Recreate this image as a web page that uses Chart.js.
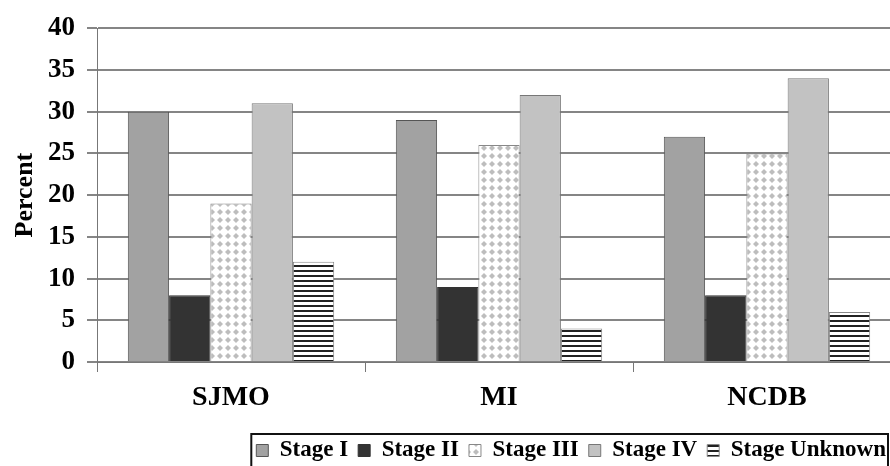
<!DOCTYPE html>
<html>
<head>
    <meta charset="UTF-8">
    <title>Stage distribution</title>
    <script src="https://cdn.jsdelivr.net/npm/chart.js"></script>
    <style>
        html, body { margin: 0; padding: 0; background: #fff; overflow: hidden; }
        #wrap { width: 902px; height: 466px; }
    </style>
</head>
<body>
    <div id="wrap"><canvas id="stageChart"></canvas></div>

    <script>
        var categories = ['SJMO', 'MI', 'NCDB'];
        var stageI = [30, 29, 27];
        var stageII = [8, 9, 8];
        var stageIII = [19, 26, 25];
        var stageIV = [31, 32, 34];
        var stageUnknown = [12, 4, 6];
        var yTicks = [0, 5, 10, 15, 20, 25, 30, 35, 40];

        var serif = '"Liberation Serif", "Times New Roman", serif';

        function diamondPattern() {
            var c = document.createElement('canvas');
            c.width = 8; c.height = 8;
            var g = c.getContext('2d');
            g.fillStyle = '#fff';
            g.fillRect(0, 0, 8, 8);
            g.fillStyle = '#bdbdbd';
            g.beginPath();
            g.moveTo(4, 1); g.lineTo(7, 4); g.lineTo(4, 7); g.lineTo(1, 4);
            g.closePath(); g.fill();
            return g.createPattern(c, 'repeat');
        }

        function stripePattern() {
            var c = document.createElement('canvas');
            c.width = 5; c.height = 5;
            var g = c.getContext('2d');
            g.fillStyle = '#fff';
            g.fillRect(0, 0, 5, 5);
            g.fillStyle = '#222';
            g.fillRect(0, 0, 5, 2);
            return g.createPattern(c, 'repeat');
        }

        // move the legend so it ends near the right edge of the visible area, then box it
        var legendBox = {
            id: 'legendBox',
            afterLayout: function(chart) {
                chart.legend.right = 896;
                chart.legend.top += 6;
            },
            afterDraw: function(chart) {
                var boxes = chart.legend.legendHitBoxes;
                if (!boxes || !boxes.length) return;
                var left = boxes[0].left - 5;
                var ctx = chart.ctx;
                ctx.save();
                ctx.strokeStyle = '#111';
                ctx.lineWidth = 2;
                ctx.strokeRect(left, 434, 888 - left, 34);
                ctx.restore();
            }
        };

        var ctx = document.getElementById('stageChart').getContext('2d');
        var stageChart = new Chart(ctx, {
            type: 'bar',
            data: {
                labels: categories,
                datasets: [
                    { label: 'Stage I', data: stageI, backgroundColor: '#a2a2a2', borderColor: '#555', borderWidth: 1 },
                    { label: 'Stage II', data: stageII, backgroundColor: '#333333', borderColor: '#333', borderWidth: 1 },
                    { label: 'Stage III', data: stageIII, backgroundColor: diamondPattern(), borderColor: '#888', borderWidth: 1 },
                    { label: 'Stage IV', data: stageIV, backgroundColor: '#c2c2c2', borderColor: '#777', borderWidth: 1 },
                    { label: 'Stage Unknown', data: stageUnknown, backgroundColor: stripePattern(), borderColor: '#888', borderWidth: 1 }
                ]
            },
            options: {
                responsive: true,
                maintainAspectRatio: false,
                animation: false,
                layout: { padding: { top: 14, right: 1, left: 10, bottom: 0 } },
                datasets: { bar: { categoryPercentage: 0.77, barPercentage: 1.0 } },
                plugins: {
                    legend: {
                        position: 'bottom',
                        align: 'end',
                        labels: {
                            color: '#000',
                            font: { family: serif, size: 23, weight: 'bold' },
                            boxWidth: 12,
                            boxHeight: 12,
                            padding: 10
                        }
                    },
                    tooltip: { enabled: false }
                },
                scales: {
                    x: {
                        afterFit: function(scale) { scale.height = 61; },
                        grid: { offset: true, drawOnChartArea: false, color: '#777', lineWidth: 1, tickLength: 10 },
                        border: { color: '#777', width: 1 },
                        ticks: { color: '#000', padding: 9, font: { family: serif, size: 28, weight: 'bold' } }
                    },
                    y: {
                        min: 0,
                        max: 40,
                        afterFit: function(scale) { scale.width = 87; },
                        afterBuildTicks: function(scale) { scale.ticks = yTicks.map(function(v) { return { value: v }; }); },
                        grid: { color: '#858585', lineWidth: 2, tickLength: 10 },
                        border: { color: '#777', width: 1 },
                        title: { display: true, text: 'Percent', color: '#000', padding: 0, font: { family: serif, size: 26, weight: 'bold' } },
                        ticks: { color: '#000', padding: 12, font: { family: serif, size: 27, weight: 'bold' } }
                    }
                }
            },
            plugins: [legendBox]
        });
    </script>
</body>
</html>
